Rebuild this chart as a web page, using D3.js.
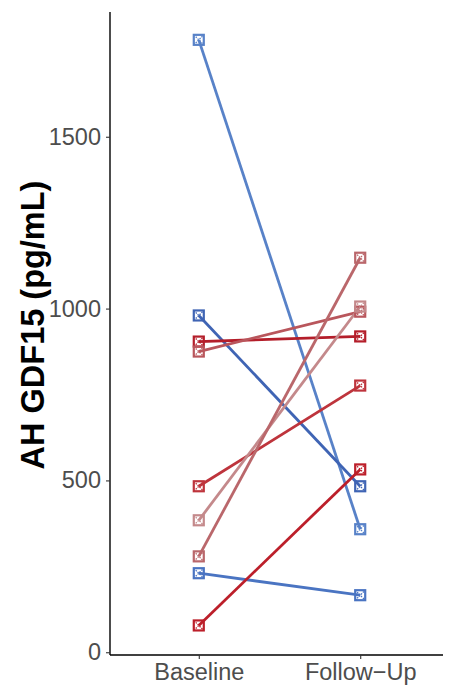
<!DOCTYPE html>
<html>
<head>
<meta charset="utf-8">
<script src="https://cdn.jsdelivr.net/npm/d3@7"></script>
<style>
  html, body { margin: 0; padding: 0; background: #fff; }
  svg { display: block; font-family: "Liberation Sans", Arial, sans-serif; }
</style>
</head>
<body>
<svg id="chart" width="449" height="688"></svg>
<script>
// Visit labels on the x axis
const visits = ["Baseline", "Follow\u2212Up"];
// Per-subject GDF15 values (pg/mL) at baseline and follow-up
const baseline = [1782, 980, 230, 904, 875, 483, 384, 279, 78];
const followUp = [358, 483, 166, 919, 991, 776, 1006, 1148, 532];
// Line colour for each subject
const subjectColors = ["#5882C8", "#3F64B4", "#4A74C2", "#B41E2A", "#B9565C", "#BE343C", "#C4898B", "#BA676B", "#BC1F2A"];
const yTicks = [0, 500, 1000, 1500];

const svg = d3.select("#chart");
const margin = { left: 110, right: 6, top: 12, bottom: 33 };
const W = 449, H = 688;

const x = d3.scalePoint().domain(visits).range([110, 449]).padding(0.55);
const y = d3.scaleLinear().domain([-8, 1863]).range([H - margin.bottom, margin.top]);

// Subject trajectories
const subjects = baseline.map((b, i) => ({ values: [b, followUp[i]], color: subjectColors[i] }));

const g = svg.append("g");
subjects.forEach(s => {
  g.append("path")
    .attr("d", d3.line().x((d, j) => x(visits[j])).y(d => y(d))(s.values))
    .attr("fill", "none")
    .attr("stroke", s.color)
    .attr("stroke-width", 2.8);
});

// Square-with-cross markers
const half = 5;
subjects.forEach(s => {
  s.values.forEach((v, j) => {
    const cx = x(visits[j]), cy = y(v);
    const m = g.append("g").attr("transform", `translate(${cx},${cy})`);
    m.append("rect")
      .attr("x", -half).attr("y", -half)
      .attr("width", 2 * half).attr("height", 2 * half)
      .attr("fill", "none").attr("stroke", s.color).attr("stroke-width", 2.2);
    m.append("path")
      .attr("d", `M${-half},${-half}L${half},${half}M${-half},${half}L${half},${-half}`)
      .attr("stroke", s.color).attr("stroke-width", 1.3).attr("stroke-dasharray", "1.5,1.2");
  });
});

// Axes
const yAxis = svg.append("g")
  .attr("transform", `translate(${margin.left},0)`)
  .call(d3.axisLeft(y).tickValues(yTicks).tickFormat(d3.format("d")).tickSize(4).tickPadding(5));
const xAxis = svg.append("g")
  .attr("transform", `translate(0,${H - margin.bottom})`)
  .call(d3.axisBottom(x).tickSize(4).tickPadding(3));

[yAxis, xAxis].forEach(ax => {
  ax.select(".domain").attr("stroke", "#000").attr("stroke-width", 1.4);
  ax.selectAll(".tick line").attr("stroke", "#333").attr("stroke-width", 1.1);
  ax.selectAll(".tick text").attr("fill", "#4D4D4D").style("font-size", "23.5px")
    .style("font-family", "'Liberation Sans', Arial, sans-serif");
});
// Extend the domain lines to plot edges
yAxis.select(".domain").attr("d", `M0,${margin.top}V${H - margin.bottom}`);
xAxis.select(".domain").attr("d", `M${margin.left},0H${W - margin.right}`);
xAxis.selectAll(".tick text").attr("dy", "0.78em");

// Y axis title
svg.append("text")
  .attr("transform", `translate(44,325) rotate(-90)`)
  .attr("text-anchor", "middle")
  .style("font-size", "32.5px").style("font-weight", "bold")
  .attr("fill", "#000")
  .text("AH GDF15 (pg/mL)");
</script>
</body>
</html>
